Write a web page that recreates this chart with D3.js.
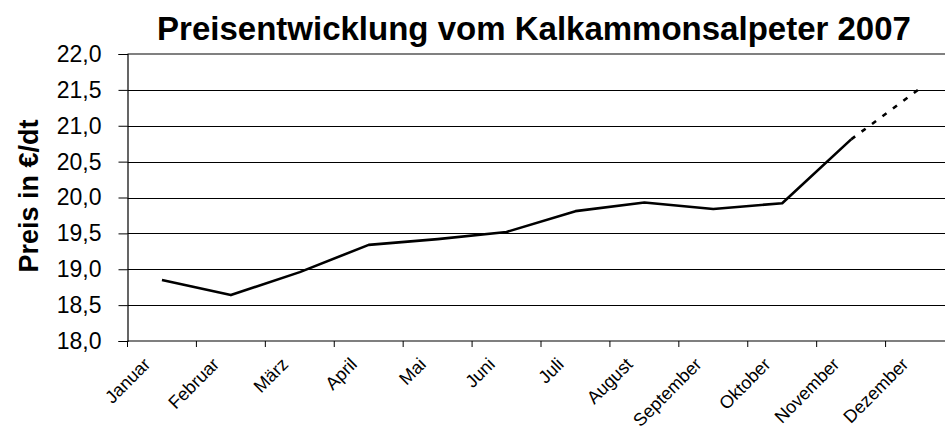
<!DOCTYPE html>
<html><head><meta charset="utf-8">
<script src="https://cdn.jsdelivr.net/npm/d3@7"></script>
<style>
html,body{margin:0;padding:0;background:#fff;}
svg{display:block;font-family:"Liberation Sans",Arial,sans-serif;}
</style></head>
<body>
<svg id="c" width="945" height="428"></svg>
<script>
const months = ["Januar","Februar","März","April","Mai","Juni","Juli","August","September","Oktober","November","Dezember"];
const prices = [18.85, 18.64, 18.96, 19.34, 19.42, 19.52, 19.81, 19.93, 19.84, 19.92, 20.81, 21.52];
const actualCount = 11; // Januar..November solid, Dezember dashed (forecast)
const yTicks = [18.0, 18.5, 19.0, 19.5, 20.0, 20.5, 21.0, 21.5, 22.0];
const title = "Preisentwicklung vom Kalkammonsalpeter 2007";
const yLabel = "Preis in €/dt";

const svg = d3.select("#c");
const L = 127.5, R = 954.5, T = 54, B = 341;
const x = d3.scaleBand().domain(months).range([L, R]).padding(0);
const y = d3.scaleLinear().domain([18, 22]).range([B, T]);
const cx = m => x(m) + x.bandwidth() / 2;

// gridlines
svg.append("g").selectAll("line").data(yTicks.filter(v => v > 18 && v < 22)).join("line")
  .attr("x1", L).attr("x2", 945).attr("y1", d => Math.round(y(d)) + 0.5).attr("y2", d => Math.round(y(d)) + 0.5)
  .attr("stroke", "#000").attr("stroke-width", 1);
// top border
svg.append("line").attr("x1", L).attr("x2", 945).attr("y1", y(22)).attr("y2", y(22))
  .attr("stroke", "#808080").attr("stroke-width", 2);

// y axis
const ya = svg.append("g").attr("transform", `translate(${L},0)`)
  .call(d3.axisLeft(y).tickValues(yTicks).tickSize(9).tickPadding(17)
    .tickFormat(d => d.toFixed(1).replace(".", ",")));
ya.select(".domain").attr("stroke", "#000").attr("stroke-width", 1.2);
ya.selectAll(".tick line").attr("stroke", "#000");
ya.selectAll("text").attr("font-size", 23).attr("fill", "#000")
  .attr("font-family", '"Liberation Sans",Arial,sans-serif');

// x axis
const xa = svg.append("g").attr("transform", `translate(0,${B})`);
xa.append("line").attr("x1", L).attr("x2", 945).attr("stroke", "#000").attr("stroke-width", 1.2);
xa.selectAll("line.t").data(months).join("line").attr("class", "t")
  .attr("x1", d => x(d)).attr("x2", d => x(d)).attr("y1", 0).attr("y2", 6).attr("stroke", "#000");
xa.selectAll("text").data(months).join("text")
  .attr("transform", d => `translate(${cx(d) - 15},${20}) rotate(-45)`)
  .attr("text-anchor", "end").attr("dy", "0.35em")
  .attr("font-size", 18).attr("fill", "#000").text(d => d);

// line
const line = d3.line().x(d => cx(d.m)).y(d => y(d.v));
const pts = months.map((m, i) => ({m, v: prices[i]}));
svg.append("path").datum(pts.slice(0, actualCount)).attr("d", line)
  .attr("fill", "none").attr("stroke", "#000").attr("stroke-width", 2.6).attr("stroke-linejoin", "round");
svg.append("path").datum(pts.slice(actualCount - 1)).attr("d", line)
  .attr("fill", "none").attr("stroke", "#000").attr("stroke-width", 2.6).attr("stroke-dasharray", "5,8");

// title
svg.append("text").attr("x", 534).attr("y", 40).attr("text-anchor", "middle")
  .attr("font-size", 33).attr("font-weight", "bold").attr("fill", "#000").text(title);
// y label
svg.append("text").attr("transform", `translate(38,196) rotate(-90)`).attr("text-anchor", "middle")
  .attr("font-size", 27).attr("font-weight", "bold").attr("fill", "#000").text(yLabel);
</script>
</body></html>
